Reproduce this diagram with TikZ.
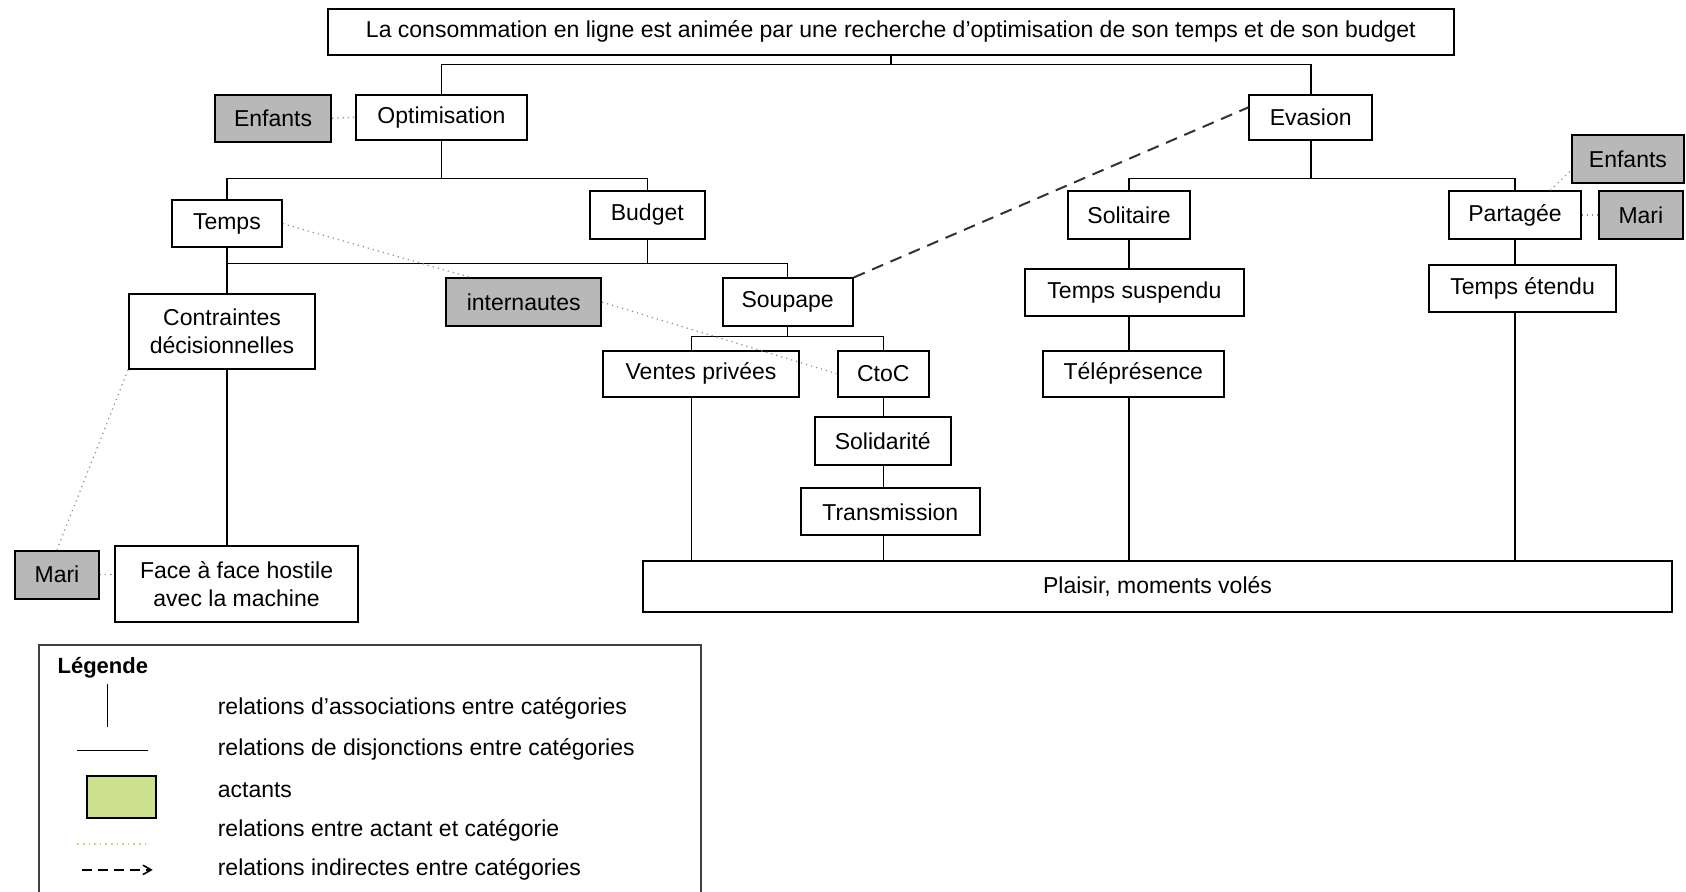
\documentclass[tikz,border=0pt]{standalone}
\usepackage{fontspec}
\setmainfont{Liberation Sans}
\usetikzlibrary{positioning}
\usetikzlibrary{arrows}
\newdimen\pxu
\pxu=0.5376pt
\definecolor{actvert}{RGB}{204,226,142}
\definecolor{relvert}{RGB}{205,212,110}
\tikzset{
cat/.style={
  rectangle,
  inner sep=0pt,
  %text width=1mm,
  align=center,
  draw=black,
  line width=1pt,
  fill=white
  },
act/.style={
  cat,
  fill=black!28
  },
sz/.style 2 args={minimum width=#1\pxu,minimum height=#2\pxu},
lien/.style={line width=0.8pt},
rel/.style={dotted,draw=black!45,line width=0.6pt},
indir/.style={draw=black!80,line width=1pt,dash pattern=on 6pt off 4pt}
}

\begin{document}
\begin{tikzpicture}[x=\pxu,y=-\pxu,font=\fontsize{11.5}{14}\selectfont]
    \useasboundingbox (0,0) rectangle (1568,829);
    \node[cat,sz={1047}{43}] (top) at (828.5,29.5) {La consommation en ligne est animée par une recherche d'optimisation de son temps et de son budget};
    \node[cat,sz={159}{42}] (opt) at (410.5,109) {Optimisation};
    \node[act,sz={108}{44}] (enfA) at (254,110) {Enfants};
    \node[cat,sz={114}{42}] (eva) at (1219,109) {Evasion};
    \node[cat,sz={102}{44}] (temps) at (211,208) {Temps};
    \node[cat,sz={107}{44}] (budget) at (602,200) {Budget};
    \node[cat,sz={173}{70}] (contr) at (206.5,308) {Contraintes\\décisionnelles};
    \node[act,sz={144}{44}] (intern) at (487,281) {internautes};
    \node[cat,sz={121}{44}] (soup) at (732.5,281) {Soupape};
    \node[cat,sz={182}{43}] (ventes) at (652,347.5) {Ventes privées};
    \node[cat,sz={85}{43}] (ctoc) at (821.5,347.5) {CtoC};
    \node[cat,sz={126}{44}] (solid) at (821,410) {Solidarité};
    \node[cat,sz={166}{44}] (trans) at (828,476) {Transmission};
    \node[cat,sz={957}{47}] (plaisir) at (1076.5,545.5) {Plaisir, moments volés};
    \node[cat,sz={114}{44}] (soli) at (1050,200) {Solitaire};
    \node[cat,sz={204}{44}] (tsusp) at (1055,272) {Temps suspendu};
    \node[cat,sz={168}{43}] (telep) at (1054,347.5) {Téléprésence};
    \node[cat,sz={122}{44}] (part) at (1409,200) {Partagée};
    \node[cat,sz={174}{44}] (tet) at (1416,268) {Temps étendu};
    \node[act,sz={104}{44}] (enfB) at (1514,148) {Enfants};
    \node[act,sz={78}{44}] (mariB) at (1526,200) {Mari};
    \node[act,sz={78}{45}] (mariA) at (53,534.5) {Mari};
    \node[cat,sz={226}{70}] (face) at (220,543) {Face à face hostile\\avec la machine};

    \coordinate (b1) at (0,60);
    \coordinate (b2) at (0,166);
    \coordinate (b3) at (0,245);
    \coordinate (b4) at (0,313);
    \coordinate (vp) at (643,0);

    \draw[lien] (top.south) -- (top.south |- b1);
    \draw[lien] (opt.north) -- (opt.north |- b1) -- (eva.north |- b1) -- (eva.north);
    \draw[lien] (opt.south) -- (opt.south |- b2);
    \draw[lien] (temps.north) -- (temps.north |- b2) -- (budget.north |- b2) -- (budget.north);
    \draw[lien] (temps.south) -- (temps.south |- contr.north);
    \draw[lien] (temps.south |- b3) -- (soup.north |- b3) -- (soup.north);
    \draw[lien] (budget.south) -- (budget.south |- b3);
    \draw[lien] (temps.south |- contr.south) -- (temps.south |- face.north);
    \draw[lien] (soup.south) -- (soup.south |- b4);
    \draw[lien] (vp |- ventes.north) -- (vp |- b4) -- (ctoc.north |- b4) -- (ctoc.north);
    \draw[lien] (ctoc.south) -- (ctoc.south |- solid.north);
    \draw[lien] (ctoc.south |- solid.south) -- (ctoc.south |- trans.north);
    \draw[lien] (ctoc.south |- trans.south) -- (ctoc.south |- plaisir.north);
    \draw[lien] (vp |- ventes.south) -- (vp |- plaisir.north);
    \draw[lien] (eva.south) -- (eva.south |- b2);
    \draw[lien] (soli.north) -- (soli.north |- b2) -- (part.north |- b2) -- (part.north);
    \draw[lien] (soli.south) -- (soli.south |- tsusp.north);
    \draw[lien] (soli.south |- tsusp.south) -- (soli.south |- telep.north);
    \draw[lien] (soli.south |- telep.south) -- (soli.south |- plaisir.north);
    \draw[lien] (part.south) -- (part.south |- tet.north);
    \draw[lien] (part.south |- tet.south) -- (part.south |- plaisir.north);

    \path
    (enfA.east) edge [rel] (opt.west)
    (temps.east) edge [rel] (intern.155)
    (intern.east) edge [rel] (ctoc.west)
    (contr.south west) edge [rel] (mariA.north)
    (mariA.east) edge [rel] (mariA.east -| face.west)
    (part.east) edge [rel] (mariB.west)
    (part.35) edge [rel] (enfB.191)
    (soup.north east) edge [indir] (eva.171)
    ;

    \draw[line width=0.8pt,draw=black!75] (36,840) |- (652,600) -- (652,840);
    \node[anchor=west,font=\fontsize{11}{13}\selectfont\bfseries] (leg) at (47,621) {Légende};
    \draw[lien] (100,636) -- (100,676);
    \node[anchor=west] (l1) at (196,659) {relations d'associations entre catégories};
    \draw[lien] (72,698) -- (138,698);
    \node[anchor=west] (l2) at (196,697) {relations de disjonctions entre catégories};
    \node[draw=black,line width=1pt,fill=actvert,sz={64}{39}] (lact) at (113,741.5) {};
    \node[anchor=west] (l3) at (196,735) {actants};
    \draw[dotted,draw=relvert,line width=0.8pt] (72,785) -- (138,785);
    \node[anchor=west] (l4) at (196,772) {relations entre actant et catégorie};
    \draw[-angle 60,line width=0.8pt,dash pattern=on 5pt off 3pt] (76,809) -- (142,809);
    \node[anchor=west] (l5) at (196,809) {relations indirectes entre catégories};
\end{tikzpicture}
\end{document}
